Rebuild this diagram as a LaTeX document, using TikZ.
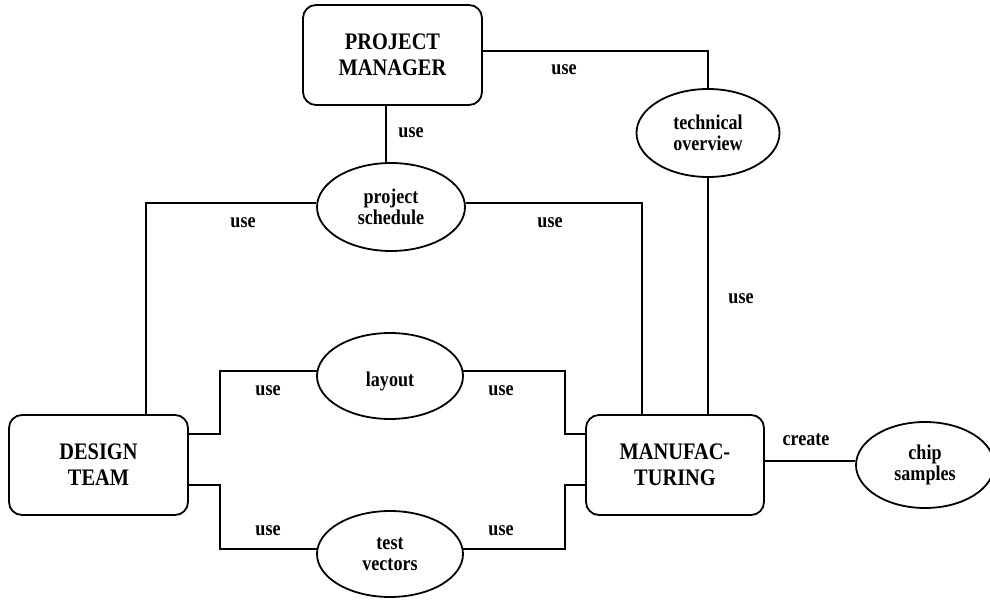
\documentclass[tikz,border=0pt]{standalone}
\usepackage{fontspec}
\setmainfont{Liberation Serif}[FakeStretch=0.86]
\usetikzlibrary{shapes.geometric}
\tikzset{
  box/.style={draw, line width=1.8pt, rounded corners=13pt, inner sep=0pt,
    minimum height=100pt, align=center,
    font=\fontsize{23.7}{26}\selectfont\bfseries},
  oval/.style={draw, ellipse, line width=1.8pt, inner sep=0pt,
    minimum width=146pt, minimum height=86pt, align=center,
    font=\fontsize{21}{21}\selectfont\bfseries},
  lab/.style={anchor=base, inner sep=0pt, font=\fontsize{21}{21}\selectfont\bfseries},
  wire/.style={line width=1.8pt}
}
\begin{document}
\begin{tikzpicture}[x=1pt,y=-1pt]
\useasboundingbox (0,0) rectangle (990,601);

% boxes
\node[box, minimum width=179pt] (pm) at (392.5,55) {PROJECT\\MANAGER};
\node[box, minimum width=179pt] (dt) at (98.5,465) {DESIGN\\TEAM};
\node[box, minimum width=178pt] (mf) at (675,465) {MANUFAC-\\TURING};

% ovals
\node[oval, minimum width=143pt, minimum height=88pt] (to) at (708,133) {technical\\overview};
\node[oval, minimum width=148pt, minimum height=88pt] (ps) at (391,207) {project\\schedule};
\node[oval, text height=26pt, text depth=4.5pt] (lay) at (390,376) {layout};
\node[oval] (tv) at (390,554) {test\\vectors};
\node[oval, minimum width=138pt] (cs) at (925,465) {chip\\samples};

% helper coordinates
\coordinate (pmE) at ([yshift=4]pm.east);
\coordinate (pmS) at ([xshift=-6.5]pm.south);
\coordinate (dtN) at ([xshift=47.5]dt.north);
\coordinate (mfN) at ([xshift=-33]mf.north);
\coordinate (dtU) at ([yshift=31]dt.east);
\coordinate (dtD) at ([yshift=-20]dt.east);
\coordinate (mfU) at ([yshift=31]mf.west);
\coordinate (mfD) at ([yshift=-20]mf.west);
\coordinate (cl) at (220,0);
\coordinate (cr) at (565,0);

% connectors
\draw[wire] (pmE) -| (to.north);
\draw[wire] (pmS) -- (pmS |- ps.north);
\draw[wire] (ps.177) -| (dtN);
\draw[wire] (ps.3) -| (mfN);
\draw[wire] (to.south) -- (to.south |- mf.north);
\draw[wire] (dtU) -| (cl |- lay.176) -- (lay.176);
\draw[wire] (lay.4) -| (cr |- mfU) -- (mfU);
\draw[wire] (dtD) -| (cl |- tv.176) -- (tv.176);
\draw[wire] (tv.4) -| (cr |- mfD) -- (mfD);
\draw[wire] (cs.177) -- (cs.177 -| mf.east);

% labels
\node[lab] (l1) at (564,75) {use};
\node[lab] (l2) at (411,138) {use};
\node[lab] (l3) at (243,228) {use};
\node[lab] (l4) at (550,228) {use};
\node[lab] (l5) at (741,304) {use};
\node[lab] (l6) at (268,395) {use};
\node[lab] (l7) at (501,395) {use};
\node[lab] (l8) at (268,535) {use};
\node[lab] (l9) at (501,535) {use};
\node[lab] (l10) at (806,445) {create};
\end{tikzpicture}
\end{document}
